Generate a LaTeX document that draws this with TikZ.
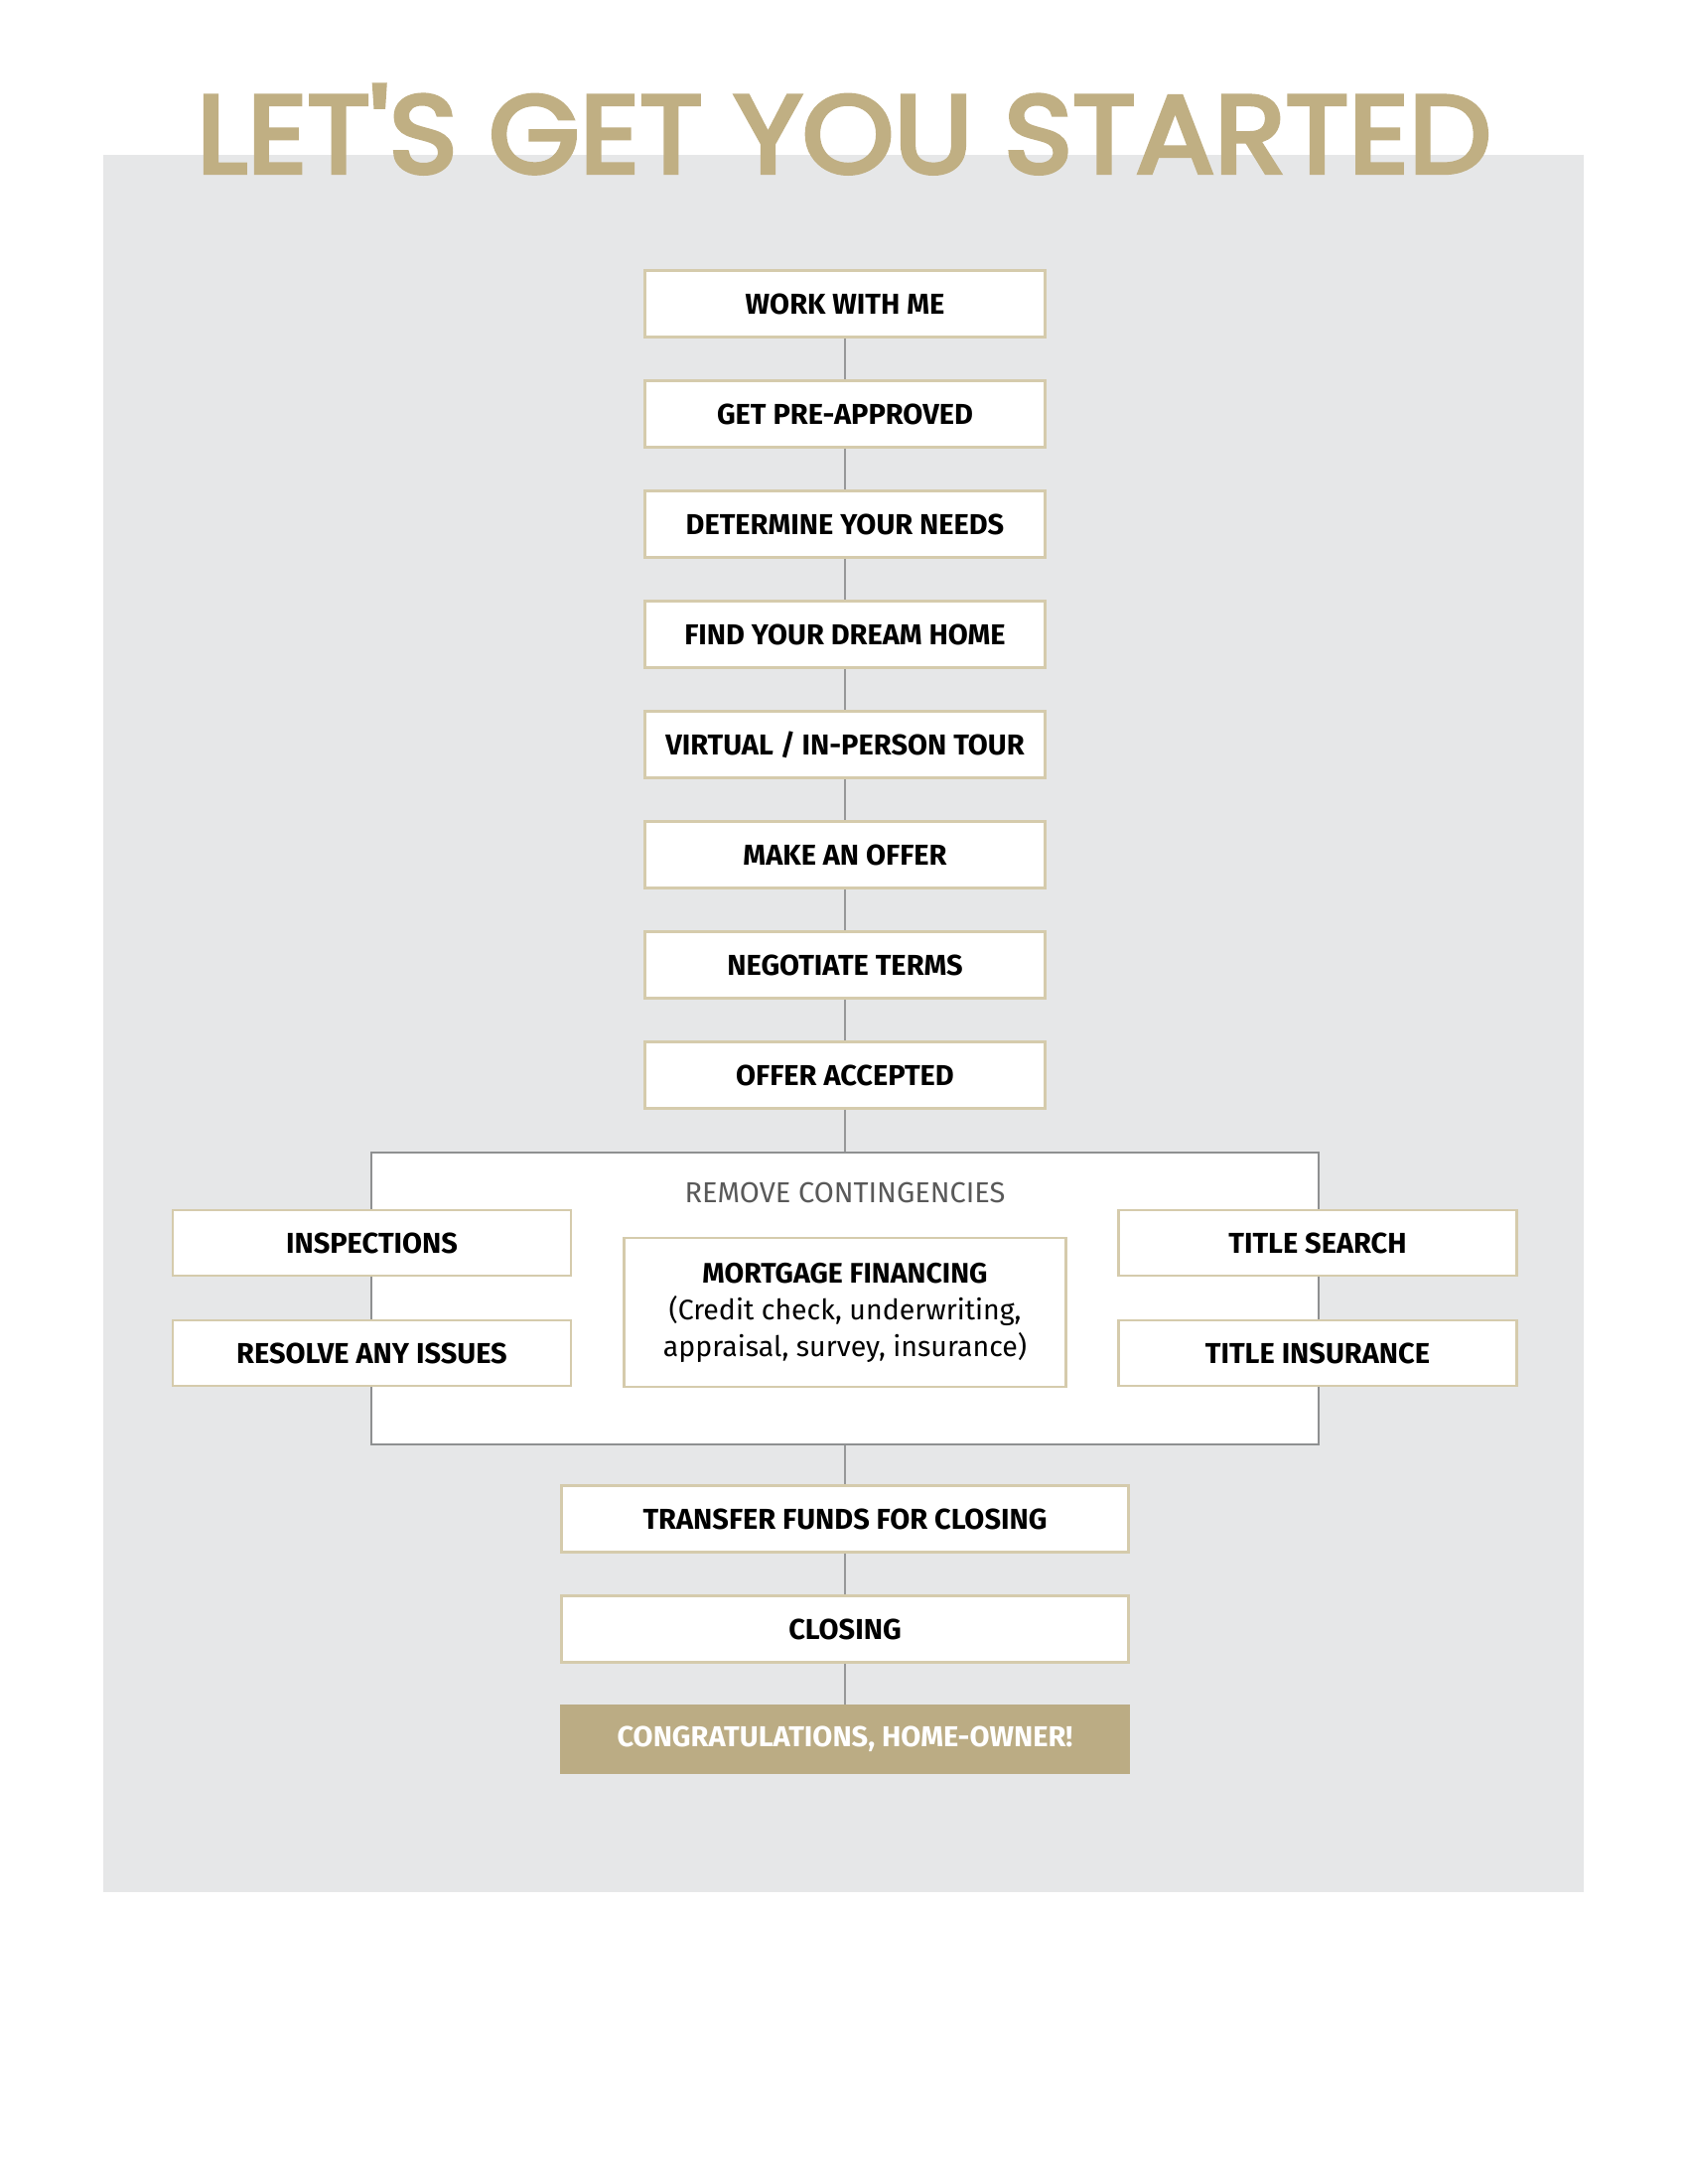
\documentclass[tikz,border=0pt]{standalone}
\usepackage{fontspec}
\setmainfont{Fira Sans}
\newfontfamily\headfont{Poppins}[FakeBold=4, FakeStretch=1.06]
\usetikzlibrary{positioning}

\definecolor{pagegray}{HTML}{E6E7E8}
\definecolor{tan}{HTML}{C0AF83}
\definecolor{tanline}{HTML}{D5CBAC}
\definecolor{tanfill}{HTML}{BBAC84}
\definecolor{linkgray}{HTML}{979899}
\definecolor{framegray}{HTML}{8E9091}

\begin{document}
\begin{tikzpicture}[
    x=1pt, y=-1pt,
    node distance=41.5pt,
    stepbox/.style={rectangle, draw=tanline, line width=2.5pt, fill=white, minimum width=403pt, minimum height=67pt, inner sep=0pt, font=\fontsize{29}{34}\selectfont\bfseries, text=black},
    sidebox/.style={stepbox, minimum width=401pt, minimum height=66pt},
    widebox/.style={stepbox, minimum width=571pt},
    link/.style={draw=linkgray, line width=2.8pt},
]
    \useasboundingbox (0,0) rectangle (1700,2200);
    \fill[white] (0,0) rectangle (1700,2200);
    \fill[pagegray] (104,156) rectangle (1595,1906);

    % --- Title ---
    \node[anchor=base, text=tan, inner sep=0pt, font=\headfont\fontsize{111}{111}\selectfont] (title) at (850,174) {LET'S GET YOU STARTED};

    % --- Main steps ---
    \node[stepbox] (work) at (851,306) {WORK WITH ME};
    \node[stepbox, below=of work] (preapp) {GET PRE-APPROVED};
    \node[stepbox, below=of preapp] (needs) {DETERMINE YOUR NEEDS};
    \node[stepbox, below=of needs] (find) {FIND YOUR DREAM HOME};
    \node[stepbox, below=of find] (tour) {VIRTUAL / IN-PERSON TOUR};
    \node[stepbox, below=of tour] (offer) {MAKE AN OFFER};
    \node[stepbox, below=of offer] (terms) {NEGOTIATE TERMS};
    \node[stepbox, below=of terms] (accepted) {OFFER ACCEPTED};

    % --- Contingencies frame ---
    \node[rectangle, draw=framegray, line width=2.5pt, fill=white, minimum width=954pt, minimum height=294pt, inner sep=0pt] (contig) at (851,1308) {};
    \node[font=\fontsize{29}{34}\selectfont, text=black!65, inner sep=0pt] (contiglab) at (851,1201) {REMOVE CONTINGENCIES};

    \node[sidebox] (inspect) at (374.5,1252) {INSPECTIONS};
    \node[sidebox, below=42.5pt of inspect] (resolve) {RESOLVE ANY ISSUES};
    \node[stepbox, minimum width=445pt, minimum height=150pt, align=center, font=\fontsize{28.5}{37}\selectfont] (mortgage) at (851,1322)
        {\textbf{MORTGAGE FINANCING}\\(Credit check, underwriting,\\appraisal, survey, insurance)};
    \node[sidebox] (tsearch) at (1327,1252) {TITLE SEARCH};
    \node[sidebox, below=42.5pt of tsearch] (tinsur) {TITLE INSURANCE};

    % --- Final steps ---
    \node[widebox] (transfer) at (851,1530) {TRANSFER FUNDS FOR CLOSING};
    \node[widebox, below=of transfer] (closing) {CLOSING};
    \node[widebox, below=of closing, draw=tanfill, fill=tanfill, text=white] (congrats) {CONGRATULATIONS, HOME-OWNER!};

    % --- Links ---
    \draw[link] (work) -- (preapp);
    \draw[link] (preapp) -- (needs);
    \draw[link] (needs) -- (find);
    \draw[link] (find) -- (tour);
    \draw[link] (tour) -- (offer);
    \draw[link] (offer) -- (terms);
    \draw[link] (terms) -- (accepted);
    \draw[link] (accepted) -- (contig.north);
    \draw[link] (contig.south) -- (transfer);
    \draw[link] (transfer) -- (closing);
    \draw[link] (closing) -- (congrats);
\end{tikzpicture}
\end{document}
